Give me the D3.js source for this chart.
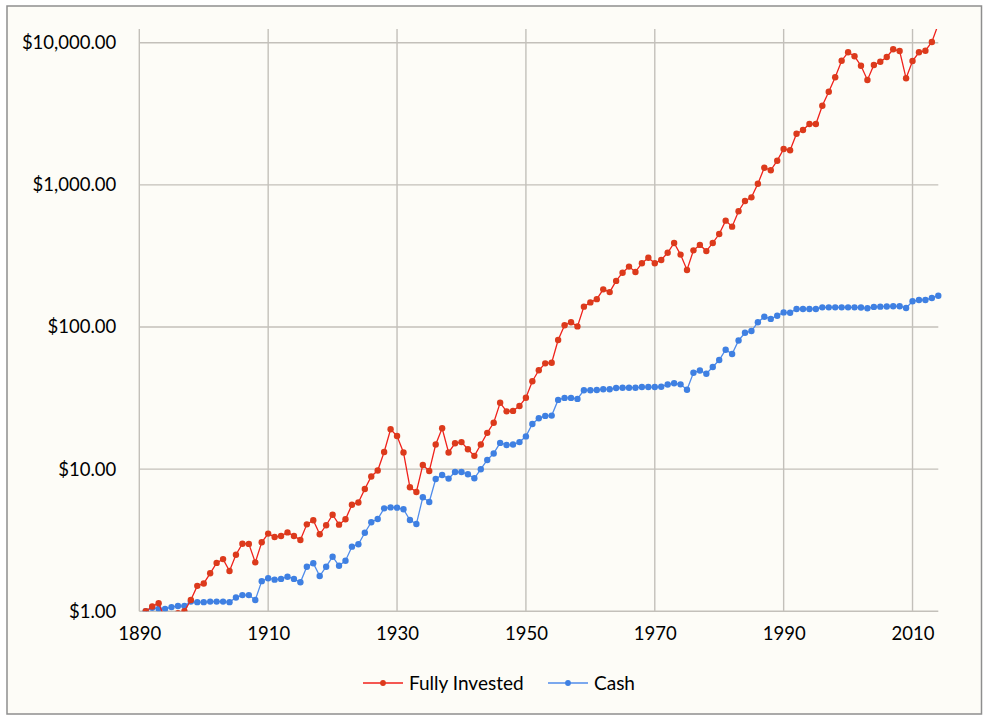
<!DOCTYPE html>
<html>
<head>
<meta charset="utf-8">
<script src="https://cdn.jsdelivr.net/npm/d3@7"></script>
<style>
  html, body { margin: 0; padding: 0; background: #ffffff; }
  svg { display: block; }
  text { font-family: Lato, "Open Sans", sans-serif; fill: #000; }
</style>
</head>
<body>
<svg id="chart" width="989" height="721"></svg>
<script>
// ---- data ----
const years = d3.range(1891, 2015);
const fullyInvested = [
  1.0, 1.08, 1.14, 0.88, 0.92, 0.97, 1.0, 1.20, 1.51, 1.57,
  1.85, 2.19, 2.33, 1.92, 2.50, 2.99, 2.98, 2.21, 3.06, 3.52,
  3.33, 3.39, 3.59, 3.39, 3.17, 4.09, 4.37, 3.48, 4.03, 4.78,
  4.07, 4.44, 5.62, 5.83, 7.25, 8.88, 9.78, 13.2, 19.1, 17.1,
  13.1, 7.45, 6.91, 10.7, 9.70, 14.9, 19.4, 13.1, 15.2, 15.5,
  13.8, 12.4, 14.9, 18.0, 21.2, 29.3, 25.5, 25.7, 27.8, 31.8,
  41.5, 49.6, 55.5, 56.1, 81.0, 103, 108, 101, 139, 149,
  157, 184, 176, 211, 241, 266, 244, 281, 307, 281,
  296, 333, 390, 323, 252, 346, 378, 342, 390, 451,
  560, 508, 652, 770, 817, 1019, 1320, 1266, 1479, 1787,
  1753, 2290, 2432, 2680, 2680, 3605, 4522, 5710, 7470, 8560,
  8025, 6890, 5465, 6970, 7350, 7930, 8985, 8740, 5617, 7433,
  8560, 8783, 10114, 13500
];
const cash = [
  1.0, 1.06, 1.04, 1.04, 1.07, 1.09, 1.09, 1.17, 1.16, 1.16,
  1.17, 1.17, 1.17, 1.16, 1.25, 1.30, 1.30, 1.20, 1.63, 1.71,
  1.67, 1.69, 1.75, 1.69, 1.60, 2.06, 2.18, 1.77, 2.06, 2.42,
  2.09, 2.27, 2.85, 2.96, 3.57, 4.23, 4.46, 5.30, 5.38, 5.36,
  5.22, 4.39, 4.11, 6.34, 5.88, 8.53, 9.10, 8.58, 9.55, 9.55,
  9.20, 8.62, 9.99, 11.6, 12.9, 15.3, 14.8, 14.9, 15.5, 17.0,
  20.8, 22.8, 23.7, 23.8, 30.7, 31.7, 31.7, 31.2, 35.9, 35.9,
  36.0, 36.5, 36.5, 37.2, 37.4, 37.4, 37.4, 37.8, 37.8, 37.8,
  38.0, 39.4, 40.2, 39.5, 36.2, 47.7, 49.4, 46.9, 52.3, 58.6,
  69.2, 64.6, 80.4, 91.0, 93.7, 108, 118, 114, 120, 126.7,
  125.9, 133.9, 133.9, 133.9, 133.9, 137.5, 137.5, 137.5, 137.5, 137.5,
  137.5, 137, 135.5, 138.5, 139, 139.5, 140, 140, 136, 151.7,
  154.9, 154.9, 160, 166
];
const xTicks = [1890, 1910, 1930, 1950, 1970, 1990, 2010];
const yTicks = [1, 10, 100, 1000, 10000];
const seriesNames = ["Fully Invested", "Cash"];

// ---- layout ----
const svg = d3.select("#chart");
const W = 989, H = 721;
const plot = { left: 139.3, right: 938.3, top: 29, bottom: 611.3 };

svg.append("rect").attr("x", 0).attr("y", 0).attr("width", W).attr("height", H).attr("fill", "#ffffff");
svg.append("rect").attr("x", 7).attr("y", 6).attr("width", 974.5).attr("height", 708)
  .attr("fill", "#fdfcf7").attr("stroke", "#8e8e8e").attr("stroke-width", 1.5);

const x = d3.scaleLinear().domain([1890, 2014]).range([plot.left, plot.right]);
const y = d3.scaleLog().domain([1, 10000]).range([plot.bottom, 42.7]);

// gridlines
const grid = svg.append("g").attr("stroke", "#c3c0ba").attr("stroke-width", 1.4);
grid.selectAll("line.v").data(xTicks).join("line")
  .attr("x1", d => x(d)).attr("x2", d => x(d))
  .attr("y1", plot.top).attr("y2", plot.bottom);
grid.selectAll("line.h").data(yTicks).join("line")
  .attr("x1", plot.left).attr("x2", plot.right)
  .attr("y1", d => y(d)).attr("y2", d => y(d));

// axes (labels only)
const yAxis = d3.axisLeft(y).tickValues(yTicks).tickFormat(d3.format("$,.2f")).tickSize(0).tickPadding(23);
const gy = svg.append("g").attr("transform", `translate(${plot.left},0)`).call(yAxis);
gy.select(".domain").remove();
gy.selectAll("text").style("font-size", "18.5px").style("font-family", "Lato, sans-serif").attr("fill", "#000");

const xAxis = d3.axisBottom(x).tickValues(xTicks).tickFormat(d3.format("d")).tickSize(0).tickPadding(16);
const gx = svg.append("g").attr("transform", `translate(0,${plot.bottom})`).call(xAxis);
gx.select(".domain").remove();
gx.selectAll("text").style("font-size", "18.5px").style("font-family", "Lato, sans-serif").attr("fill", "#000");

// clip
svg.append("clipPath").attr("id", "plotclip").append("rect")
  .attr("x", plot.left - 10).attr("y", plot.top)
  .attr("width", plot.right - plot.left + 20).attr("height", plot.bottom - plot.top);

const series = [
  { name: seriesNames[0], values: fullyInvested, line: "#f0211b", dot: "#dc3a1c" },
  { name: seriesNames[1], values: cash, line: "#4f8ceb", dot: "#3f80e2" }
];

const lineGen = d3.line().x((d, i) => x(years[i])).y(d => y(d));
const g = svg.append("g").attr("clip-path", "url(#plotclip)");
series.slice().reverse().forEach(s => {
  g.append("path").datum(s.values).attr("d", lineGen)
    .attr("fill", "none").attr("stroke", s.line).attr("stroke-width", 1.3);
  g.selectAll(null).data(s.values).join("circle")
    .attr("cx", (d, i) => x(years[i])).attr("cy", d => y(d))
    .attr("r", 3.2).attr("fill", s.dot);
});

// legend
const legend = svg.append("g");
const legendItems = [
  { name: seriesNames[0], x0: 363, line: series[0].line, dot: series[0].dot },
  { name: seriesNames[1], x0: 548, line: series[1].line, dot: series[1].dot }
];
legendItems.forEach(it => {
  const ly = 683;
  legend.append("line").attr("x1", it.x0).attr("x2", it.x0 + 40).attr("y1", ly).attr("y2", ly)
    .attr("stroke", it.line).attr("stroke-width", 1.3);
  legend.append("circle").attr("cx", it.x0 + 20).attr("cy", ly).attr("r", 2.9).attr("fill", it.dot);
  legend.append("text").attr("x", it.x0 + 46).attr("y", ly).attr("dy", "0.35em")
    .style("font-size", "19px").text(it.name);
});
</script>
</body>
</html>
